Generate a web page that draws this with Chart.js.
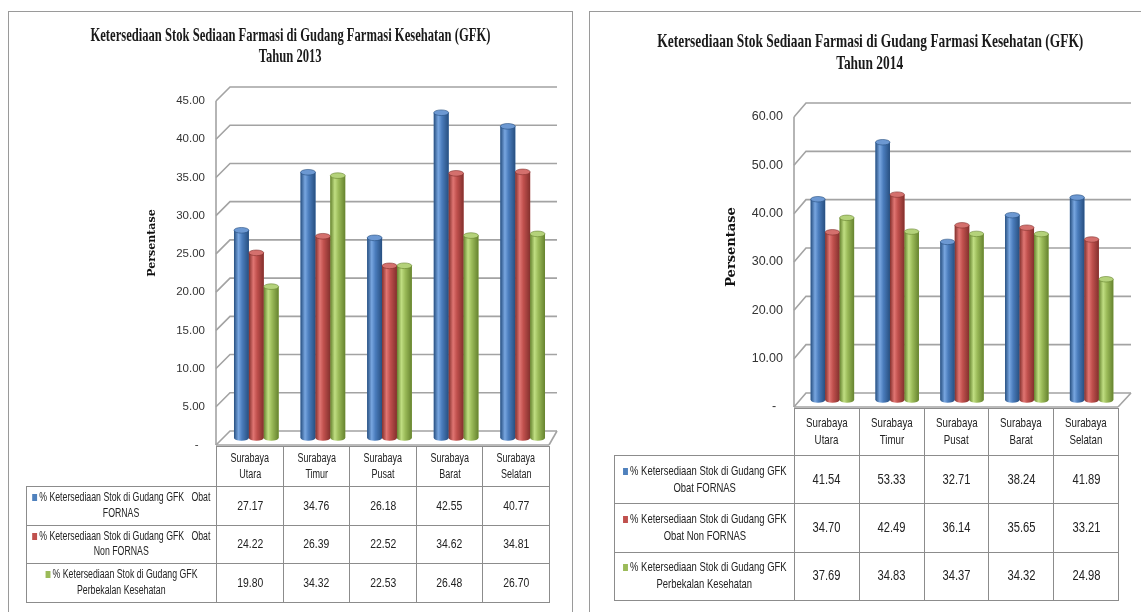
<!DOCTYPE html>
<html><head><meta charset="utf-8">
<script src="https://cdn.jsdelivr.net/npm/chart.js@4.4.1/dist/chart.umd.min.js"></script>
<style>
html,body{margin:0;padding:0;background:#fff;}
body{width:1141px;height:612px;overflow:hidden;position:relative;font-family:"Liberation Sans",Arial,sans-serif;color:#222;}
.panel{position:absolute;border:1px solid #9a9a9a;background:#fff;overflow:hidden;}
#p1{left:8px;top:11px;width:563px;height:620px;}
#p2{left:589px;top:11px;width:600px;height:620px;}
canvas{position:absolute;left:0;top:0;}
.title{position:absolute;font-family:"Liberation Serif",serif;font-weight:bold;white-space:nowrap;color:#1a1a1a;display:flex;flex-direction:column;align-items:center;}
.title span{display:block;transform-origin:center top;}
table{position:absolute;border-collapse:collapse;table-layout:fixed;}
td{border:1px solid #8c8c8c;text-align:center;vertical-align:middle;padding:0;line-height:1.25;color:#222;overflow:hidden;}
td.blank{border:none;}
.ln{display:flex;justify-content:center;white-space:nowrap;}
.ln span{display:inline-block;transform-origin:center center;}
.sq{display:inline-block;width:7px;height:7px;margin-right:3px;vertical-align:0px;}
</style>
</head><body>
<div class="panel" id="p1">
  <canvas id="c1" width="562" height="600"></canvas>
  <div class="title" id="t1" style="left:0;top:13px;width:562px;font-size:18.5px;line-height:21px;"></div>
</div>
<div class="panel" id="p2">
  <canvas id="c2" width="551" height="600"></canvas>
  <div class="title" id="t2" style="left:0;top:18px;width:560px;font-size:19.5px;line-height:22px;"></div>
</div>
<script>
// ---------------- data ----------------
const categories = ['Surabaya Utara','Surabaya Timur','Surabaya Pusat','Surabaya Barat','Surabaya Selatan'];
const fornas2013 = [27.17,34.76,26.18,42.55,40.77];
const nonFornas2013 = [24.22,26.39,22.52,34.62,34.81];
const perbekalan2013 = [19.80,34.32,22.53,26.48,26.70];
const fornas2014 = [41.54,53.33,32.71,38.24,41.89];
const nonFornas2014 = [34.70,42.49,36.14,35.65,33.21];
const perbekalan2014 = [37.69,34.83,34.37,34.32,24.98];
const seriesNames2013 = [
  ['% Ketersediaan Stok di Gudang GFK\u00a0\u00a0 Obat','FORNAS'],
  ['% Ketersediaan Stok di Gudang GFK\u00a0\u00a0 Obat','Non FORNAS'],
  ['% Ketersediaan Stok di Gudang GFK','Perbekalan Kesehatan']
];
const seriesNames2014 = [
  ['% Ketersediaan Stok di Gudang GFK','Obat FORNAS'],
  ['% Ketersediaan Stok di Gudang GFK','Obat Non FORNAS'],
  ['% Ketersediaan Stok di Gudang GFK','Perbekalan Kesehatan']
];
const yMax2013 = 45, yStep2013 = 5;
const yMax2014 = 60, yStep2014 = 10;
const titleLines2013 = ['Ketersediaan Stok Sediaan Farmasi di Gudang Farmasi Kesehatan (GFK)','Tahun 2013'];
const titleLines2014 = ['Ketersediaan Stok Sediaan Farmasi di Gudang Farmasi Kesehatan (GFK)','Tahun 2014'];
const yTitle = 'Persentase';

// ---------------- styles ----------------
const colors = ['#4F81BD','#C0504D','#9BBB59'];
const shades = [
  {dark:'#274f80', light:'#78a6e0', mid:'#4a7cbc', cap:'#6c98d2'},
  {dark:'#83302d', light:'#e07572', mid:'#c0504d', cap:'#d4706d'},
  {dark:'#66832f', light:'#c0de82', mid:'#9bbb59', cap:'#b4d27a'}
];

const wallPlugin = {
  id:'wall3d',
  beforeDatasetsDraw(chart, args, o){
    const {ctx, chartArea:{left,right}} = chart; const y = chart.scales.y;
    ctx.save(); ctx.strokeStyle = '#a3a3a3'; ctx.lineWidth = 1.6;
    y.ticks.forEach(t=>{
      const p = y.getPixelForValue(t.value);
      ctx.beginPath(); ctx.moveTo(left-o.dx, p+o.dy); ctx.lineTo(left+o.dx, p-o.dy); ctx.lineTo(right+o.ext, p-o.dy); ctx.stroke();
    });
    const p0 = y.getPixelForValue(y.min), p1 = y.getPixelForValue(y.max);
    ctx.beginPath(); ctx.moveTo(left-o.dx, p0+o.dy); ctx.lineTo(left-o.dx, p1+o.dy); ctx.stroke();
    ctx.beginPath(); ctx.moveTo(right-o.dx, p0+o.dy); ctx.lineTo(right+o.ext, p0-o.dy); ctx.stroke();
    ctx.beginPath(); ctx.moveTo(left-o.dx, p0+o.dy); ctx.lineTo(right-o.dx, p0+o.dy); ctx.stroke();
    ctx.restore();
  }
};
const cylPlugin = {
  id:'cyl',
  afterDatasetsDraw(chart){
    const ctx = chart.ctx;
    chart.data.datasets.forEach((ds,di)=>{
      const meta = chart.getDatasetMeta(di); const sh = shades[di];
      meta.data.forEach(el=>{
        const {x,y,base,width} = el.getProps(['x','y','base','width'],true);
        const l = x-width/2, r = x+width/2, ry = Math.max(2.2, width*0.19);
        const g = ctx.createLinearGradient(l,0,r,0);
        g.addColorStop(0, sh.dark); g.addColorStop(0.3, sh.light); g.addColorStop(0.55, sh.mid); g.addColorStop(1, sh.dark);
        ctx.save();
        ctx.fillStyle = g;
        ctx.beginPath();
        ctx.moveTo(l, y); ctx.lineTo(l, base);
        ctx.ellipse(x, base, width/2, ry, 0, Math.PI, 0, true);
        ctx.lineTo(r, y); ctx.closePath(); ctx.fill();
        ctx.beginPath(); ctx.ellipse(x, y, width/2, ry, 0, 0, Math.PI*2);
        ctx.fillStyle = sh.cap; ctx.fill();
        ctx.strokeStyle = sh.dark; ctx.lineWidth = 0.6; ctx.stroke();
        ctx.restore();
      });
    });
  }
};
const yTitlePlugin = {
  id:'ytitle',
  afterDraw(chart, args, o){
    const ctx = chart.ctx; ctx.save();
    ctx.translate(o.x, o.y); ctx.rotate(-Math.PI/2);
    ctx.font = o.font; ctx.fillStyle = '#111'; ctx.textAlign='center'; ctx.textBaseline='middle';
    ctx.fillText(o.text, 0, 0); ctx.restore();
  }
};

function makeChart(id, series, yMax, yStep, o){
  return new Chart(document.getElementById(id), {
    type:'bar',
    data:{ labels: categories, datasets: series.map((d,i)=>({data:d, backgroundColor:colors[i], borderWidth:0, categoryPercentage:o.catPct, barPercentage:1})) },
    options:{
      responsive:false, animation:false, devicePixelRatio:1,
      layout:{padding:{left:0, right:o.padR, top:o.padT, bottom:o.padB}},
      plugins:{legend:{display:false}, tooltip:{enabled:false}, title:{display:false},
        wall3d:{dx:o.dx, dy:o.dy, ext:o.ext},
        ytitle:{text:yTitle, x:o.ytx, y:o.yty, font:'bold '+o.ytSize+'px "DejaVu Serif", serif'}},
      scales:{
        x:{display:false},
        y:{min:0, max:yMax, grid:{display:false, drawTicks:false}, border:{display:false},
           afterFit(s){ s.width = o.yW; },
           ticks:{stepSize:yStep, padding:o.tickPad, labelOffset:o.dy, color:'#333',
             font:{family:'"Liberation Sans", sans-serif', size:o.tickSize},
             callback:(v)=> v===0 ? '-\u00a0\u00a0' : Number(v).toFixed(2)}}
      }
    },
    plugins:[wallPlugin, cylPlugin, yTitlePlugin]
  });
}

function ln(html, s){ return '<div class="ln"><span style="transform:scaleX('+s+')">'+html+'</span></div>'; }

function buildTable(panelId, chart, names, o){
  const xs = chart.scales.x;
  const cols = categories.map((c,i)=>xs.getPixelForValue(i));
  const cw = cols.length>1 ? cols[1]-cols[0] : 60;
  const frontLeft = cols[0] - cw/2 - o.dx;
  const t = document.createElement('table');
  const W = o.labelW + cw*categories.length;
  t.style.left = (frontLeft - o.labelW) + 'px';
  t.style.top = o.top + 'px';
  t.style.width = W + 'px';
  let h = '<colgroup><col style="width:'+o.labelW+'px">' + categories.map(()=>'<col style="width:'+cw+'px">').join('') + '</colgroup>';
  h += '<tr style="height:'+o.headH+'px"><td class="blank"></td>' + categories.map(c=>{const p=c.split(' ');return '<td style="font-size:'+o.headSize+'px">'+ln(p[0],o.sh)+ln(p.slice(1).join(' '),o.sh)+'</td>';}).join('') + '</tr>';
  o.series.forEach((d,i)=>{
    h += '<tr style="height:'+o.rowH+'px"><td style="font-size:'+o.labSize+'px">' +
      ln('<span class="sq" style="background:'+colors[i]+'"></span>'+names[i][0], o.sx) + ln(names[i][1], o.sx) + '</td>' +
      d.map(v=>'<td style="font-size:'+o.valSize+'px">'+ln(v.toFixed(2), o.sv)+'</td>').join('') + '</tr>';
  });
  t.innerHTML = h;
  document.getElementById(panelId).appendChild(t);
}

function setTitle(id, lines, target){
  const el = document.getElementById(id);
  el.innerHTML = lines.map(l=>'<span>'+l+'</span>').join('');
  const spans = el.querySelectorAll('span');
  const s = target / spans[0].getBoundingClientRect().width;
  spans.forEach(sp=>{ sp.style.transform = 'scaleX('+s+')'; });
}

const o1 = {dx:7, dy:7, ext:1, catPct:0.67, padR:15, padT:82, padB:174, yW:214, tickPad:18, tickSize:11.5, ytx:143, yty:231, ytSize:11,
  labelW:190, top:434, headH:40, rowH:38.5, headSize:12.5, labSize:12.5, valSize:13, sh:0.72, sx:0.7, sv:0.8, series:[fornas2013, nonFornas2013, perbekalan2013]};
const o2 = {dx:6, dy:7, ext:7, catPct:0.67, padR:17, padT:98, padB:212, yW:210, tickPad:17, tickSize:12.5, ytx:142, yty:235, ytSize:13,
  labelW:180, top:396, headH:47, rowH:48.3, headSize:13.5, labSize:13.5, valSize:14, sh:0.72, sx:0.7, sv:0.8, series:[fornas2014, nonFornas2014, perbekalan2014]};

const ch1 = makeChart('c1', o1.series, yMax2013, yStep2013, o1);
const ch2 = makeChart('c2', o2.series, yMax2014, yStep2014, o2);
buildTable('p1', ch1, seriesNames2013, o1);
buildTable('p2', ch2, seriesNames2014, o2);
setTitle('t1', titleLines2013, 400);
setTitle('t2', titleLines2014, 426);
</script>
</body></html>
